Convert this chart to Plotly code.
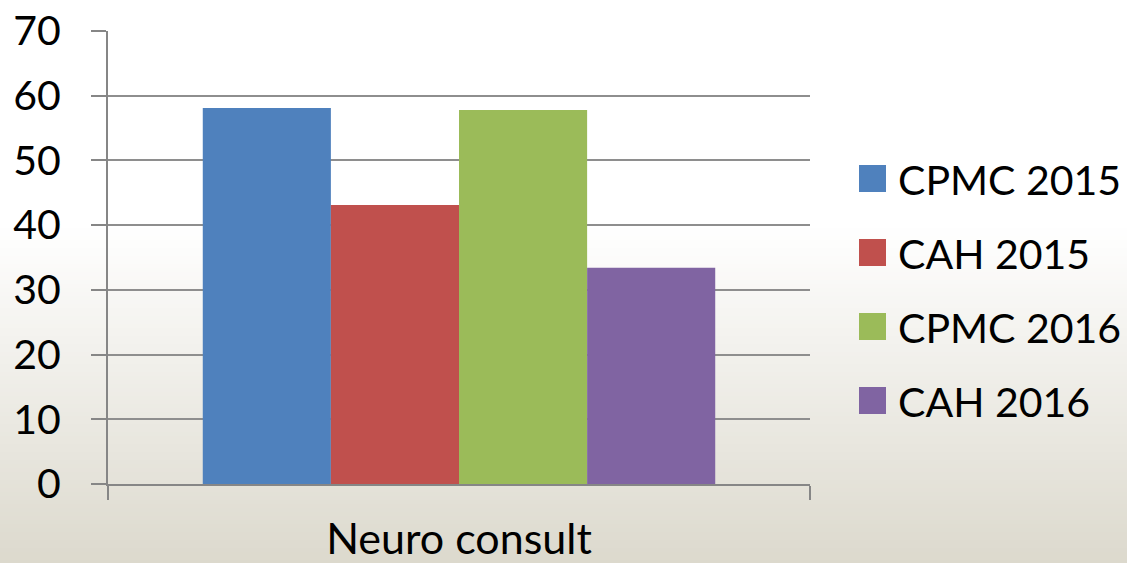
import plotly.graph_objects as go

categories = ["Neuro consult"]
series_names = ["CPMC 2015", "CAH 2015", "CPMC 2016", "CAH 2016"]
series_values = [[58.1], [43.1], [57.8], [33.4]]
series_colors = ["#4F81BD", "#C0504D", "#9BBB59", "#8064A2"]
y_ticks = [0, 10, 20, 30, 40, 50, 60, 70]

W, H = 1127, 563
L, R, T, B = 108, 317, 31, 79
pw, ph = W - L - R, H - T - B

def px_x(x):
    return (x - L) / pw

def px_y(y):
    return (H - B - y) / ph

fig = go.Figure()
for name, vals, col in zip(series_names, series_values, series_colors):
    fig.add_trace(go.Bar(x=categories, y=vals, name=name, marker_color=col,
                         marker_line_width=0, showlegend=False))

shapes = []
# background gradient
top_c = (255, 255, 255)
bot_c = (220, 217, 205)
start = 225
step = 4
for y0 in range(0, H, step):
    yc = y0 + step / 2
    f = 0.0 if yc < start else (yc - start) / (H - start)
    c = tuple(round(top_c[i] + (bot_c[i] - top_c[i]) * f) for i in range(3))
    shapes.append(dict(type="rect", xref="paper", yref="paper", layer="below",
                       x0=px_x(0), x1=px_x(W), y0=px_y(y0 + step + 0.5), y1=px_y(y0),
                       fillcolor="rgb(%d,%d,%d)" % c, line_width=0))

annotations = []
row_centers = [178.5, 252.5, 326.5, 400.5]
for name, col, cy in zip(series_names, series_colors, row_centers):
    shapes.append(dict(type="rect", xref="paper", yref="paper",
                       x0=px_x(859), x1=px_x(886), y0=px_y(cy + 13.5), y1=px_y(cy - 13.5),
                       fillcolor=col, line_width=0))
    annotations.append(dict(xref="paper", yref="paper", x=px_x(896), y=px_y(cy + 1),
                            text=name, showarrow=False, xanchor="left", yanchor="middle",
                            font=dict(size=41, color="#000000", family="Lato")))

fig.update_layout(
    width=W, height=H,
    margin=dict(l=L, r=R, t=T, b=B, pad=0),
    paper_bgcolor="white", plot_bgcolor="rgba(0,0,0,0)",
    barmode="group", bargap=0.27, bargroupgap=0,
    font=dict(family="Lato", size=41, color="#000000"),
    shapes=shapes, annotations=annotations,
)
fig.update_xaxes(range=[-0.5, 0.5], showline=True, linecolor="#868686", linewidth=2,
                 ticks="outside", tickson="boundaries", ticklen=14, tickwidth=2,
                 tickcolor="#868686", showgrid=False, ticklabelstandoff=16,
                 tickfont=dict(size=43), automargin=False)
fig.update_yaxes(range=[0, 70], tickvals=y_ticks, showline=True, linecolor="#868686",
                 linewidth=2, ticks="outside", ticklen=15, tickwidth=2, tickcolor="#868686",
                 showgrid=True, gridcolor="#8E8E8E", gridwidth=2, zeroline=False,
                 ticklabelstandoff=22, automargin=False)

fig.write_html("out.html")
